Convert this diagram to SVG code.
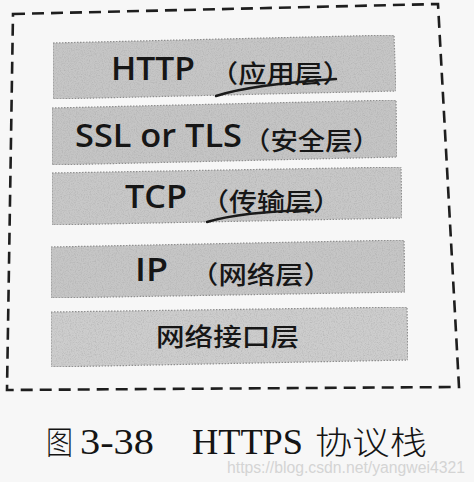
<svg xmlns="http://www.w3.org/2000/svg" width="474" height="482" viewBox="0 0 474 482">
  <style>
    .box { stroke: #8e8e8e; stroke-width: 1.2; stroke-dasharray: 1.5 1.5; }
    .lat { font-family: "Open Sans", "Noto Sans", "Liberation Sans", sans-serif; font-size: 33px; font-weight: 600; fill: #161616; }
    .cjk { font-family: "Noto Sans CJK SC", "Noto Sans", sans-serif; font-size: 25px; font-weight: 500; fill: #161616; }
    .cap { font-family: "Liberation Serif", "Noto Sans CJK SC", serif; font-size: 36px; fill: #141414; }
    .capc { font-family: "Noto Sans CJK SC", "Liberation Serif", serif; font-size: 32px; font-weight: 300; fill: #141414; }
    .ink { fill: none; stroke: #1a1a1a; stroke-width: 2.4; stroke-linecap: round; }
    .wm { font-family: "Liberation Sans", Arial, sans-serif; font-size: 16px; fill: #d4d4d4; }
  </style>
  <defs>
    <filter id="grain" x="0" y="0" width="100%" height="100%">
      <feTurbulence type="fractalNoise" baseFrequency="0.85" numOctaves="2" seed="4" result="n"/>
      <feColorMatrix in="n" type="matrix" values="0 0 0 0 0.35  0 0 0 0 0.35  0 0 0 0 0.35  1.1 0 0 0 -0.47" result="g"/>
      <feComposite in="g" in2="SourceAlpha" operator="in" result="gc"/>
      <feMerge><feMergeNode in="SourceGraphic"/><feMergeNode in="gc"/></feMerge>
    </filter>
  </defs>
  <rect width="474" height="482" fill="#f7f7f7"/>

  <g id="frame">
    <path d="M13,14 L438,4 L459,387 L7,390 Z" fill="none" stroke="#1e1e1e" stroke-width="2.6" stroke-dasharray="12 7"/>
  </g>

  <g id="n1">
    <polygon class="box" filter="url(#grain)" fill="#c6c6c6" points="53,43 394,35 396,91 53,99"/>
    <text class="lat" x="111" y="80" textLength="84" lengthAdjust="spacingAndGlyphs">HTTP</text>
    <text class="cjk" x="210" y="83" textLength="141" lengthAdjust="spacingAndGlyphs">（应用层）</text>
  </g>

  <g id="n2">
    <polygon class="box" filter="url(#grain)" fill="#c5c5c5" points="52,108 396,100 397,157 52,165"/>
    <text class="lat" x="75" y="147" textLength="167" lengthAdjust="spacingAndGlyphs">SSL or TLS</text>
    <text class="cjk" x="243" y="150" textLength="137" lengthAdjust="spacingAndGlyphs">（安全层）</text>
  </g>

  <g id="n3">
    <polygon class="box" filter="url(#grain)" fill="#c8c8c8" points="52,173 401,167 402,218 52,225"/>
    <text class="lat" x="125" y="208" textLength="62" lengthAdjust="spacingAndGlyphs">TCP</text>
    <text class="cjk" x="201" y="211" textLength="140" lengthAdjust="spacingAndGlyphs">（传输层）</text>
  </g>

  <g id="n4">
    <polygon class="box" filter="url(#grain)" fill="#c6c6c6" points="51,247 404,240 405,292 51,298"/>
    <text class="lat" x="135" y="281" textLength="33" lengthAdjust="spacingAndGlyphs">IP</text>
    <text class="cjk" x="190" y="284" textLength="142" lengthAdjust="spacingAndGlyphs">（网络层）</text>
  </g>

  <g id="n5">
    <polygon class="box" filter="url(#grain)" fill="#cdcdcd" points="51,312 407,307 408,360 51,367"/>
    <text class="cjk" x="156" y="346" font-size="26" textLength="143" lengthAdjust="spacingAndGlyphs">网络接口层</text>
  </g>

  <g id="annotations">
    <path class="ink" d="M216,96 C240,88 290,82 336,79"/>
    <path class="ink" d="M207,222 C230,215 270,211 313,210"/>
  </g>

  <g id="caption">
    <text class="capc" x="46" y="454" textLength="27" lengthAdjust="spacingAndGlyphs">图</text>
    <text class="cap" x="80" y="454" textLength="74" lengthAdjust="spacingAndGlyphs">3-38</text>
    <text class="cap" x="192" y="454" textLength="111" lengthAdjust="spacingAndGlyphs">HTTPS</text>
    <text class="capc" x="315" y="454" textLength="112" lengthAdjust="spacingAndGlyphs">协议栈</text>
  </g>

  <text class="wm" x="227" y="473" textLength="238" lengthAdjust="spacingAndGlyphs">https://blog.csdn.net/yangwei4321</text>
</svg>
